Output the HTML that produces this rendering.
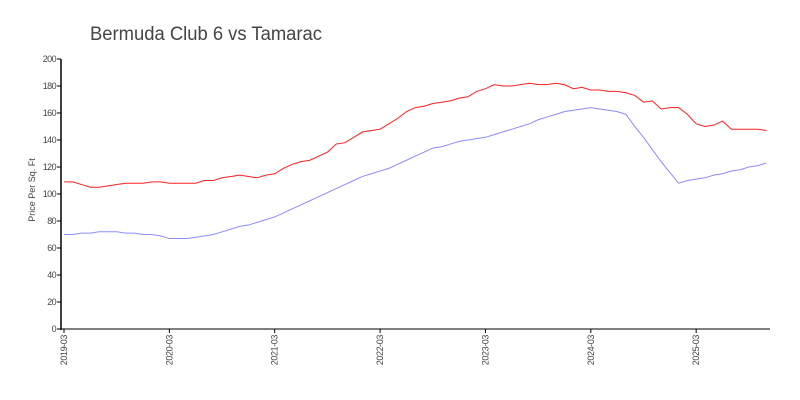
<!DOCTYPE html>
<html><head><meta charset="utf-8"><style>
html,body{margin:0;padding:0;background:#fff;width:800px;height:400px;overflow:hidden}
svg text{font-family:"Liberation Sans",sans-serif;fill:#444}
</style></head><body>
<svg id="chart" width="800" height="400">
<text x="90" y="40" font-size="19" fill="#222" textLength="232" lengthAdjust="spacingAndGlyphs" style="font-weight:300">Bermuda Club 6 vs Tamarac</text>
<text transform="translate(35,190) rotate(-90)" font-size="9" text-anchor="middle">Price Per Sq. Ft</text>
<g id="axes"></g><g id="lines"></g>
</svg>
<script>
const yTicks=[0,20,40,60,80,100,120,140,160,180,200];
const xTickLabels=["2019-03","2020-03","2021-03","2022-03","2023-03","2024-03","2025-03"];
const xTickIdx=[0,12,24,36,48,60,72];
const bermuda=[109,109,107,105,105,106,107,108,108,108,109,109,108,108,108,108,110,110,112,113,114,113,112,114,115,119,122,124,125,128,131,137,138,142,146,147,148,152,156,161,164,165,167,168,169,171,172,176,178,181,180,180,181,182,181,181,182,181,178,179,177,177,176,176,175,173,168,169,163,164,164,159,152,150,151,154,148,148,148,148,147];
const tamarac=[70,70,71,71,72,72,72,71,71,70,70,69,67,67,67,68,69,70,72,74,76,77,79,81,83,86,89,92,95,98,101,104,107,110,113,115,117,119,122,125,128,131,134,135,137,139,140,141,142,144,146,148,150,152,155,157,159,161,162,163,164,163,162,161,159,150,142,133,124,116,108,110,111,112,114,115,117,118,120,121,123];
const NS="http://www.w3.org/2000/svg";
const x0=64,dx=8.78,yb=329,ys=1.35;
const X=i=>x0+i*dx, Y=v=>yb-v*ys;
const axes=document.getElementById('axes'), lines=document.getElementById('lines');
function mk(t,a,p){const e=document.createElementNS(NS,t);for(const k in a)e.setAttribute(k,a[k]);p.appendChild(e);return e;}
const ya=mk('line',{x1:61,x2:61,y1:Y(200),y2:yb+1,stroke:'#000','stroke-width':1.5},axes);


const xa=mk('line',{x1:61,x2:770,y1:yb,y2:yb,stroke:'#000','stroke-width':1},axes);


yTicks.forEach(v=>{
 mk('line',{x1:57,x2:61,y1:Y(v),y2:Y(v),stroke:'#000'},axes);
 const t=mk('text',{x:56,y:Y(v)+3,'font-size':9,'text-anchor':'end','letter-spacing':'-0.6'},axes);t.textContent=v;
 
 
});
xTickIdx.forEach((i,k)=>{
 mk('line',{x1:X(i),x2:X(i),y1:yb,y2:yb+4,stroke:'#000'},axes);
 const t=mk('text',{transform:`translate(${X(i)+3},${yb+6}) rotate(-90)`,'font-size':9,'text-anchor':'end','letter-spacing':'-0.4'},axes);t.textContent=xTickLabels[k];
 
 
});
function line(d,c,n){const p=mk('polyline',{points:d.map((v,i)=>X(i)+','+Y(v)).join(' '),fill:'none',stroke:c,'stroke-width':1},lines);
 
 }
line(bermuda,'#ff2020','bermuda-club-line');
line(tamarac,'#8c8cff','tamarac-line');
</script>
</body></html>
